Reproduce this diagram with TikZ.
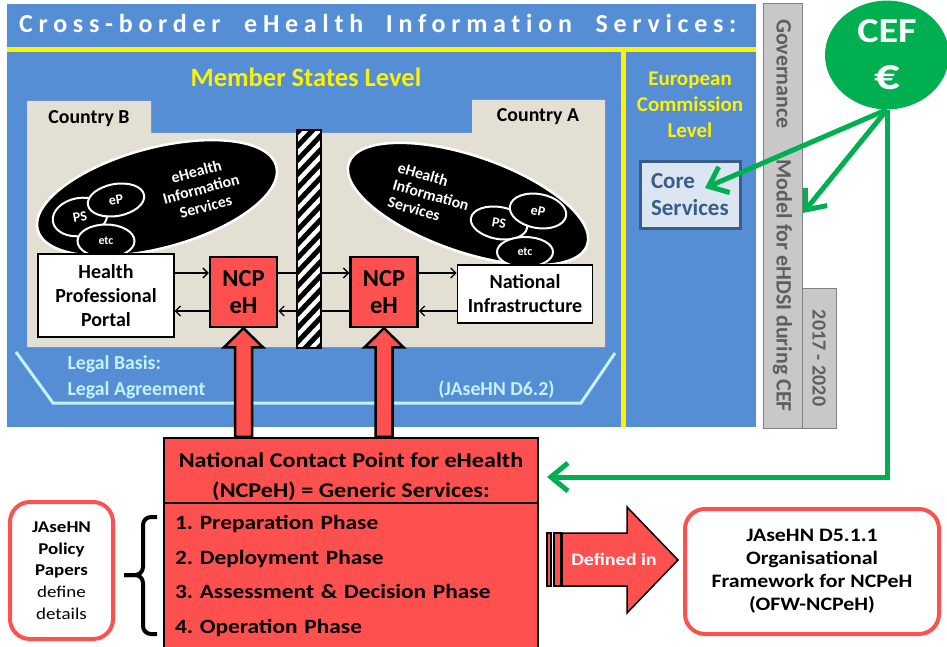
\documentclass[tikz,border=0pt]{standalone}
\usepackage{fontspec}
\setmainfont{Carlito}
\newfontfamily\titlefont[LetterSpace=22, Ligatures={NoCommon}]{Carlito}
\newfontfamily\widefont[FakeStretch=1.15]{Carlito}
\usetikzlibrary{shapes.geometric,arrows.meta,calc}
\definecolor{ehblue}{HTML}{558ED5}
\definecolor{ehbeige}{HTML}{E3E0D3}
\definecolor{ncpred}{HTML}{FF5050}
\definecolor{cefgreen}{HTML}{00B050}
\definecolor{corefill}{HTML}{DCE6F2}
\definecolor{coreblue}{HTML}{385D8A}
\definecolor{legalcyan}{HTML}{C4F2FF}
\definecolor{govgray}{HTML}{C8C8C8}
\definecolor{govtext}{HTML}{5E5E5E}
\newcommand\fsz[2]{\fontsize{#1}{#2}\selectfont}
\frenchspacing

\begin{document}
\begin{tikzpicture}[x=1pt, y=-1pt, font=\bfseries,
	box/.style={draw=black, fill=white, line width=1.2pt, align=center, inner sep=0pt, font=\bfseries\fsz{20}{24}},
	ncp/.style={draw=black, fill=ncpred, line width=2.5pt, minimum width=67pt, minimum height=70pt, align=center, font=\bfseries\fsz{24.5}{27}},
	blob/.style={ellipse, draw=white, fill=black, line width=2.5pt, inner sep=0pt},
	sub/.style={ellipse, draw=white, fill=black, line width=2pt, inner sep=0pt, text=white, font=\bfseries\fsz{14}{16}},
	flow/.style={-{Straight Barb[length=5pt,width=10pt]}, line width=1.3pt},
	cefarrow/.style={cefgreen, line width=5pt, -{Straight Barb[length=17pt,width=28pt]}},
	bigarrow/.style={draw=black, fill=ncpred, line width=2.5pt, line join=miter},
	roundbox/.style={draw=ncpred, fill=white, line width=4pt, rounded corners=20pt, align=center, inner sep=0pt},
	govbar/.style={draw=gray, fill=govgray, text=govtext, inner sep=0pt, rotate=-90}]

		\useasboundingbox (0,0) rectangle (947,647);
		\fill[white] (0,0) rectangle (947,647);

		% blue frame
		\fill[ehblue] (7,4) rectangle (756,427);
		\draw[yellow, line width=5pt] (7,50) -- (756,50);
		\draw[yellow, line width=5pt] (623,50) -- (623,427);
		\node[anchor=base west, inner sep=0pt, text=white] (title) at (19,33) {\titlefont\bfseries\fsz{26}{30}Cross-border\hspace{12pt} eHealth\hspace{11pt} Information\hspace{12pt} Services:};
		\node[anchor=base, text=yellow, font=\bfseries\fsz{26.5}{30}] (msl) at (306,87) {Member States Level};
		\node[text=yellow, align=center, font=\bfseries\fsz{21}{26}] (ecl) at (690,105) {European\\Commission\\Level};
		\node[draw=coreblue, fill=corefill, line width=3pt, text=coreblue, minimum width=100pt, minimum height=66pt, text width=78pt, inner xsep=11pt, align=left, font=\bfseries\fsz{23}{27}] (core) at (690,195) {Core\\Services};

		% countries
		\fill[ehbeige] (27,101) rectangle (151,133) (27,133) rectangle (605,347) (472,100) rectangle (605,133);
		\node[font=\bfseries\fsz{19.8}{20}] (cntB) at (89,119) {Country B};
		\node[font=\bfseries\fsz{19.8}{20}] (cntA) at (538,117) {Country A};

		\node[blob, minimum width=247pt, minimum height=100pt, rotate=15] (ehisB) at (157,198) {};
		\node[text=white, rotate=15, align=center, font=\bfseries\fsz{15.8}{18}] (ehisBtxt) at (201,189) {eHealth\\Information\\Services};
		\node[sub, minimum width=55pt, minimum height=38pt, rotate=10] (psB) at (80,217) {PS};
		\node[sub, minimum width=57pt, minimum height=32pt, rotate=10] (epB) at (116,200) {eP};
		\node[sub, minimum width=57pt, minimum height=33pt, font=\bfseries\fsz{12}{14}] (etcB) at (106,241) {etc};

		\node[blob, minimum width=252pt, minimum height=96pt, rotate=-19] (ehisA) at (468,204) {};
		\node[text=white, rotate=-16, align=left, font=\bfseries\fsz{15.8}{18}] (ehisAtxt) at (431,195) {eHealth\\Information\\Services};
		\node[sub, minimum width=57pt, minimum height=32pt, rotate=-10] (psA) at (499,223) {PS};
		\node[sub, minimum width=57pt, minimum height=34pt, rotate=-10] (epA) at (538,211) {eP};
		\node[sub, minimum width=56pt, minimum height=30pt, font=\bfseries\fsz{12}{14}] (etcA) at (525,252) {etc};

		\node[box, minimum width=136pt, minimum height=83pt] (hpp) at (106,295.5) {Health\\Professional\\Portal};
		\node[box, minimum width=135.5pt, minimum height=58pt] (ni) at (525,294) {National\\Infrastructure};
		\node[ncp] (ncpB) at (243.5,292) {NCP\\eH};
		\node[ncp] (ncpA) at (384,292) {NCP\\eH};

		\draw[flow] ([yshift=19pt]ncpB.west -| hpp.east) -- ([yshift=19pt]ncpB.west);
		\draw[flow] ([yshift=19pt]ncpB.east) -- ([yshift=19pt]ncpA.west);
		\draw[flow] ([yshift=19pt]ncpA.east) -- ([yshift=19pt]ncpA.east -| ni.west);
		\draw[flow] ([yshift=-19pt]ncpA.east -| ni.west) -- ([yshift=-19pt]ncpA.east);
		\draw[flow] ([yshift=-19pt]ncpA.west) -- ([yshift=-19pt]ncpB.east);
		\draw[flow] ([yshift=-19pt]ncpB.west) -- ([yshift=-19pt]ncpB.west -| hpp.east);

		% border between the countries
		\begin{scope}
			\clip (297,130) rectangle (321,348);
			\fill[white] (297,130) rectangle (321,348);
			\foreach \k in {-1,...,18}
				\draw[line width=5pt] (290,140+14*\k) -- (328,100+14*\k);
		\end{scope}
		\draw[line width=2pt] (297,130) rectangle (321,348);

		% legal basis
		\draw[legalcyan, line width=3pt] (16,352) -- (53,403) -- (581,403) -- (615,353);
		\node[anchor=west, text=legalcyan, font=\bfseries\fsz{19.8}{20}] (basis) at (64,364) {Legal Basis:};
		\node[anchor=west, text=legalcyan, font=\bfseries\fsz{19.8}{20}] (agree) at (64,390) {Legal Agreement};
		\node[anchor=east, text=legalcyan, font=\bfseries\fsz{19.8}{20}] (d62) at (558,390) {(JAseHN D6.2)};

		% governance
		\node[govbar, minimum width=425pt, minimum height=39pt, font=\bfseries\fsz{22}{24}] (gov) at (782.5,215.5) {Governance\hspace{31pt}Model for eHDSI during CEF};
		\node[govbar, minimum width=140pt, minimum height=34pt, font=\bfseries\fsz{20}{22}] (years) at (819,358) {2017 - 2020};

		% NCPeH
		\node[draw=black, fill=ncpred, line width=2.5pt, minimum width=374pt, minimum height=64pt, align=center, font=\widefont\bfseries\fsz{21}{30}] (ncph) at (351,471) {\rule{0pt}{26pt}National Contact Point for eHealth\\(NCPeH) = Generic Services:};
		\node[draw=black, fill=ncpred, line width=2.5pt, minimum height=146pt, text width=352pt, inner xsep=11pt, align=left, font=\widefont\bfseries\fsz{20.3}{34.5}] (phases) at (351,576) {1. Preparation Phase\\2. Deployment Phase\\3. Assessment \& Decision Phase\\4. Operation Phase};

		\draw[bigarrow] (ncpB.south) -- ++(19.5,19) -- ++(-11,0) coordinate (r) -- (r |- ncph.north) -- ++(-17,0) coordinate (l) -- (l |- r) -- ++(-11,0) -- cycle;
		\draw[bigarrow] (ncpA.south) -- ++(19.5,19) -- ++(-11,0) coordinate (r) -- (r |- ncph.north) -- ++(-17,0) coordinate (l) -- (l |- r) -- ++(-11,0) -- cycle;

		\draw[line width=4pt, rounded corners=8pt] (157,517) -- (143,517) -- (143,575) -- (124,575);
		\draw[line width=4pt, rounded corners=8pt] (157,634) -- (143,634) -- (143,575) -- (124,575);
		\node[roundbox, minimum width=103pt, minimum height=137pt, font=\widefont\bfseries\fsz{16.5}{21.75}] (policy) at (61.5,570.5) {JAseHN\\Policy\\Papers\\\mdseries define\\\mdseries details};

		\draw[black, fill=ncpred, line width=1.2pt] (547,533) rectangle (551,586) (554,533) rectangle (561,586);
		\draw[black, fill=ncpred, line width=1.5pt] (562,533) -- (627,533) -- (627,507) -- (678,560) -- (627,613) -- (627,586) -- (562,586) -- cycle;
		\node[text=white, font=\widefont\bfseries\fsz{17.4}{18}] (defin) at (614,559) {Defined in};
		\node[roundbox, minimum width=254pt, minimum height=125pt, font=\widefont\bfseries\fsz{19}{23}] (ofw) at (812,571.5) {JAseHN D5.1.1\\Organisational\\Framework for NCPeH\\(OFW-NCPeH)};

		% CEF funding
		\node[ellipse, fill=cefgreen, minimum width=124pt, minimum height=106pt, text=white, align=center, font=\widefont\bfseries\fsz{35}{47}] (cef) at (887,55) {CEF\\{\fsz{44}{47}€}};
		\coordinate (coretip) at (705,188);
		\coordinate (govtip) at (803,213);
		\coordinate (ncphtip) at (547,477);
		\draw[cefarrow] (cef.south) -- (coretip);
		\draw[cefarrow] (cef.south) -- (govtip);
		\draw[cefarrow] (cef.south) |- (ncphtip);
	\end{tikzpicture}
\end{document}
